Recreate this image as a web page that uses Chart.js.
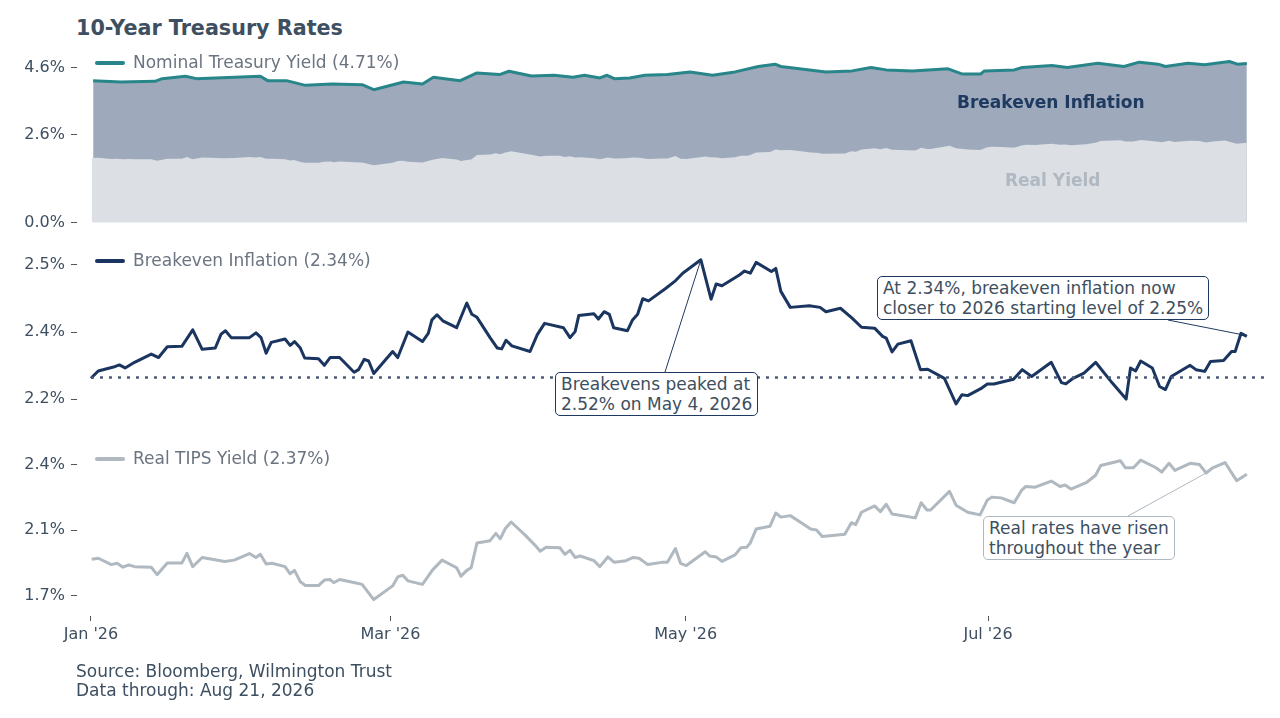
<!DOCTYPE html>
<html><head><meta charset="utf-8">
<script src="https://cdn.jsdelivr.net/npm/chart.js@4"></script>
<style>
body{margin:0;width:1280px;height:718px;background:#fff;position:relative;overflow:hidden;font-family:"DejaVu Sans",sans-serif}
.cv{position:absolute;left:0;width:1280px}
.t{position:absolute;white-space:nowrap;font-size:17px}
.leg{color:#6b7480}
.sw{position:absolute;width:30px;height:4px;border-radius:2px}
.box{position:absolute;background:#fff;border:1px solid #1f3a60;border-radius:5px;padding:1px 5px;font-size:17px;line-height:20px;color:#3d4f60;white-space:nowrap}
</style></head><body>
<div class="t" style="left:76px;top:16px;font-size:20.7px;font-weight:bold;color:#3d4f60">10-Year Treasury Rates</div>
<div class="cv" style="top:26px;height:212px"><canvas id="c1"></canvas></div>
<div class="cv" style="top:224px;height:211px"><canvas id="c2"></canvas></div>
<div class="cv" style="top:429px;height:240px"><canvas id="c3"></canvas></div>
<div class="sw" style="left:95px;top:61px;background:#28868a"></div><div class="t leg" style="left:133px;top:52px">Nominal Treasury Yield (4.71%)</div>
<div class="sw" style="left:95px;top:259px;background:#1a3560"></div><div class="t leg" style="left:133px;top:250px">Breakeven Inflation (2.34%)</div>
<div class="sw" style="left:95px;top:457px;background:#b0b8c0"></div><div class="t leg" style="left:133px;top:448px">Real TIPS Yield (2.37%)</div>
<div class="t" style="left:957px;top:92px;font-weight:bold;color:#1f3a60">Breakeven Inflation</div>
<div class="t" style="left:1005px;top:170px;font-weight:bold;color:#b0b8c2">Real Yield</div>
<div class="box" style="left:555px;top:372px">Breakevens peaked at<br>2.52% on May 4, 2026</div>
<div class="box" style="left:877px;top:276px">At 2.34%, breakeven inflation now<br>closer to 2026 starting level of 2.25%</div>
<div class="box" style="left:983px;top:516px;border-color:#b0b8c0">Real rates have risen<br>throughout the year</div>
<div class="t" style="left:76px;top:662px;color:#3d4f60;line-height:19px">Source: Bloomberg, Wilmington Trust<br>Data through: Aug 21, 2026</div>
<script>
// x = trading-day index since Jan 1, 2026
const tickPos = [0, 41.2, 81.8, 123.4];
const tickLabels = ["Jan '26", "Mar '26", "May '26", "Jul '26"];
const startLevel = 2.25;

const nomX = [0.3,4.1,8.8,9.8,13.0,14.5,23.3,24.3,26.9,29.5,33.2,37.3,38.9,43.0,45.6,47.1,50.8,53.1,56.2,57.5,60.6,63.7,66.3,67.9,70.0,71.0,72.0,74.1,76.2,79.3,82.4,85.5,88.6,91.8,94.1,94.9,101.1,104.7,107.3,109.4,113.0,117.9,119.8,122.4,122.9,127.0,128.1,132.2,134.3,138.5,142.1,144.2,146.8,147.8,150.9,153.2,156.6,157.7,159.0];
const nomY = [4.21,4.17,4.19,4.27,4.34,4.27,4.34,4.21,4.21,4.07,4.11,4.09,3.94,4.17,4.11,4.31,4.21,4.44,4.39,4.49,4.35,4.37,4.31,4.37,4.29,4.37,4.27,4.29,4.37,4.39,4.47,4.37,4.47,4.63,4.70,4.63,4.47,4.50,4.60,4.53,4.50,4.56,4.41,4.41,4.50,4.53,4.60,4.66,4.60,4.73,4.63,4.76,4.70,4.63,4.73,4.68,4.78,4.70,4.72];

const beX = [0,1.0,3.1,3.9,4.7,6.0,8.3,9.3,10.5,12.5,14.0,15.3,17.1,17.9,18.5,19.3,21.8,22.7,23.4,24.1,24.8,26.7,27.4,28.0,28.8,29.4,31.3,32.1,32.9,34.2,36.2,36.8,37.6,38.2,38.9,41.5,42.2,43.6,45.6,46.4,46.9,47.6,48.4,50.3,51.7,52.4,53.1,54.9,55.9,56.5,57.1,57.9,60.4,61.4,62.4,65.0,65.9,66.6,67.1,69.2,69.8,70.6,71.3,71.9,73.8,74.5,75.2,75.9,76.7,79.0,80.3,81.4,83.9,85.3,86.0,86.8,89.2,89.9,90.7,91.5,93.6,94.2,94.9,96.2,98.8,100.3,101.1,103.1,104.7,106.0,107.8,108.9,109.4,110.2,111.0,112.8,114.1,115.1,117.4,119.0,119.8,120.6,122.4,123.3,124.2,126.9,128.1,129.4,132.1,133.5,134.1,135.1,136.6,138.2,140.5,142.4,143.0,143.7,144.4,146.0,147.0,147.8,148.6,151.2,152.0,153.2,154.0,155.8,156.9,157.4,158.2,159.0];
const beY = [2.248,2.265,2.274,2.279,2.272,2.285,2.304,2.296,2.321,2.322,2.360,2.315,2.318,2.350,2.358,2.342,2.342,2.353,2.342,2.306,2.331,2.339,2.324,2.333,2.318,2.295,2.293,2.278,2.296,2.296,2.262,2.268,2.292,2.288,2.259,2.310,2.296,2.355,2.333,2.352,2.383,2.395,2.381,2.365,2.422,2.396,2.389,2.342,2.318,2.316,2.336,2.323,2.310,2.349,2.375,2.365,2.342,2.356,2.393,2.397,2.385,2.402,2.396,2.365,2.358,2.383,2.396,2.432,2.427,2.455,2.472,2.491,2.522,2.431,2.466,2.462,2.487,2.496,2.491,2.516,2.495,2.502,2.449,2.412,2.416,2.412,2.402,2.410,2.387,2.366,2.364,2.345,2.341,2.309,2.327,2.335,2.268,2.269,2.248,2.189,2.210,2.208,2.224,2.235,2.235,2.246,2.268,2.252,2.285,2.238,2.235,2.248,2.260,2.285,2.237,2.200,2.272,2.265,2.288,2.272,2.229,2.222,2.252,2.278,2.268,2.264,2.287,2.289,2.310,2.310,2.352,2.345];

const realX = [0.1,1.0,2.8,3.6,4.4,5.2,6.0,8.3,9.1,10.5,12.5,13.2,14.0,15.3,18.4,19.7,21.8,22.7,23.3,24.1,24.9,26.7,27.4,28.0,28.8,29.5,31.3,32.1,32.9,33.4,34.2,36.3,37.3,38.9,41.5,42.2,42.9,43.6,45.6,47.0,48.3,50.3,50.9,51.7,52.3,53.1,54.9,55.7,56.3,57.0,57.8,59.8,61.1,61.8,62.6,64.5,65.2,65.9,66.6,67.3,69.2,70.0,71.1,72.0,73.6,74.6,75.4,76.6,78.5,79.3,80.4,81.1,81.9,84.5,85.1,86.0,86.8,88.6,89.4,90.2,90.7,91.5,93.4,94.2,94.9,96.2,97.7,99.0,99.8,100.6,103.7,104.6,105.2,106.0,107.8,108.6,109.4,110.2,113.4,114.2,115.0,115.5,118.1,119.0,120.6,122.3,123.3,123.9,125.2,127.0,128.0,128.6,129.9,132.1,133.3,134.0,134.8,136.9,138.2,138.9,141.6,142.3,143.4,144.4,146.5,147.3,148.3,149.1,151.2,152.5,153.4,154.3,156.0,157.6,159.0];
const realY = [1.915,1.920,1.886,1.893,1.872,1.884,1.875,1.872,1.832,1.894,1.894,1.946,1.875,1.924,1.903,1.910,1.945,1.924,1.941,1.889,1.893,1.875,1.837,1.855,1.794,1.774,1.774,1.803,1.806,1.789,1.806,1.789,1.780,1.699,1.772,1.820,1.829,1.799,1.780,1.858,1.910,1.869,1.824,1.855,1.869,2.002,2.014,2.053,2.024,2.079,2.114,2.041,1.989,1.958,1.979,1.976,1.941,1.962,1.924,1.932,1.907,1.875,1.927,1.898,1.907,1.924,1.920,1.886,1.898,1.898,1.972,1.893,1.881,1.955,1.932,1.927,1.903,1.938,1.976,1.979,2.002,2.076,2.091,2.162,2.140,2.148,2.110,2.076,2.071,2.036,2.048,2.110,2.100,2.166,2.200,2.169,2.209,2.157,2.136,2.217,2.178,2.178,2.278,2.204,2.166,2.152,2.231,2.247,2.243,2.217,2.283,2.304,2.300,2.333,2.304,2.312,2.290,2.324,2.364,2.416,2.442,2.404,2.404,2.445,2.404,2.381,2.428,2.390,2.428,2.421,2.376,2.404,2.432,2.335,2.369];

const topTicks = [0, 2.6, 4.6];
const midTicks = [2.2, 2.355, 2.51];
const botTicks = [1.72, 2.07, 2.42];

const pts = (xs, ys) => xs.map((x, i) => ({x, y: ys[i]}));
const FONT = {family: 'DejaVu Sans', size: 16};
const TXT = '#3d4f60';
const XMIN = -1.92, XMAX = 161.5;

function yAxis(min, max, ticks) {
  return {min, max, afterBuildTicks: s => { s.ticks = ticks.map(v => ({value: v})); },
    afterFit: s => { s.width = 77; },
    border: {display: false},
    grid: {drawOnChartArea: false, tickLength: 6, color: '#555', tickWidth: 1},
    ticks: {font: FONT, color: TXT, padding: 6, callback: v => v.toFixed(1) + '%'}};
}
function xAxis(show) {
  return {type: 'linear', min: XMIN, max: XMAX, display: show,
    afterBuildTicks: s => { s.ticks = tickPos.map(v => ({value: v})); },
    afterFit: s => { s.height = show ? 30 : 0; },
    border: {display: false},
    grid: {drawOnChartArea: false, tickLength: 5, color: '#555'},
    ticks: {font: FONT, color: TXT, padding: 4, maxRotation: 0, autoSkip: false,
      callback: (v) => { const i = tickPos.indexOf(v); return i >= 0 ? tickLabels[i] : ''; }}};
}
const base = {responsive: true, maintainAspectRatio: false, animation: false,
  plugins: {legend: {display: false}, tooltip: {enabled: false}},
  elements: {point: {radius: 0}, line: {tension: 0, borderJoinStyle: 'round'}}};

function leader(canvasTop, getPt, bx, by, color) {
  return {id: 'ld' + bx, afterDatasetsDraw(c) {
    const p = getPt(c); const ctx = c.ctx; ctx.save();
    ctx.strokeStyle = color; ctx.lineWidth = 1; ctx.beginPath();
    ctx.moveTo(bx, by - canvasTop); ctx.lineTo(p[0], p[1]); ctx.stroke(); ctx.restore();
  }};
}

new Chart(document.getElementById('c1'), {type: 'line',
  data: {datasets: [
    {data: pts(realX, realY), borderWidth: 0, backgroundColor: '#dcdfe4', fill: 'origin', order: 1},
    {data: pts(nomX, nomY), borderColor: '#28868a', borderWidth: 3, backgroundColor: '#9eaabb', fill: 'origin', order: 2}
  ]},
  options: {...base, layout: {padding: {top: 10, bottom: 10, right: 15}},
    scales: {x: xAxis(false), y: yAxis(0, 5.37, topTicks)}}});

const midLead1 = leader(224, c => [c.scales.x.getPixelForValue(83.9), c.scales.y.getPixelForValue(2.522)], 665, 372, '#1f3a60');
const midLead2 = leader(224, c => [c.scales.x.getPixelForValue(158.6), c.scales.y.getPixelForValue(2.348)], 1168, 320, '#1f3a60');
new Chart(document.getElementById('c2'), {type: 'line',
  data: {datasets: [
    {data: [{x: 0, y: startLevel}, {x: XMAX, y: startLevel}], borderColor: '#4a5a78', borderWidth: 2.5, borderDash: [3, 6], fill: false},
    {data: pts(beX, beY), borderColor: '#1a3560', borderWidth: 3, fill: false}
  ]},
  options: {...base, layout: {padding: {top: 10, bottom: 10, right: 15}},
    scales: {x: xAxis(false), y: yAxis(2.153, 2.5687, midTicks)}},
  plugins: [midLead1, midLead2]});

const botLead = leader(429, c => [c.scales.x.getPixelForValue(153.4), c.scales.y.getPixelForValue(2.376)], 1128, 516, '#b0b8c0');
new Chart(document.getElementById('c3'), {type: 'line',
  data: {datasets: [
    {data: pts(realX, realY), borderColor: '#b0b8c0', borderWidth: 3, fill: false}
  ]},
  options: {...base, layout: {padding: {top: 10, bottom: 23, right: 15}},
    scales: {x: xAxis(true), y: yAxis(1.611, 2.528, botTicks)}},
  plugins: [botLead]});
</script>
</body></html>
